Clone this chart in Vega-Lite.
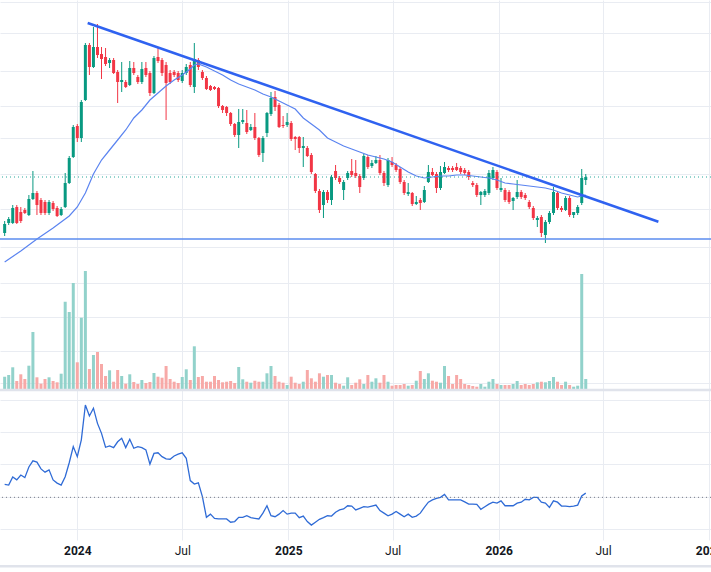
{
  "$schema": "https://vega.github.io/schema/vega-lite/v6.json",
  "width": 711,
  "height": 540,
  "autosize": {"type": "none"},
  "padding": {"left": 0, "top": 0, "right": 0, "bottom": 32},
  "background": "#ffffff",
  "config": {
    "view": {"stroke": null},
    "font": "Roboto",
    "axisX": {
      "title": null,
      "labelFont": "Roboto",
      "labelFontSize": 12,
      "labelColor": "#131722",
      "labelPadding": 5,
      "labelOverlap": false,
      "labelFlush": false,
      "labelBound": false,
      "ticks": false,
      "domain": false,
      "grid": true,
      "gridColor": "#e9ecf2"
    }
  },
  "datasets": {
    "candles": [
      {"d": "2023-08-28", "o": 67, "h": 79, "l": 64, "c": 76, "v": 13.3, "r": 13.8},
      {"d": "2023-09-04", "o": 77, "h": 83, "l": 75, "c": 81, "v": 15, "r": 13.6},
      {"d": "2023-09-11", "o": 77, "h": 95, "l": 76, "c": 92, "v": 22.7, "r": 16.1},
      {"d": "2023-09-18", "o": 93, "h": 95, "l": 76, "c": 77, "v": 9, "r": 15.2},
      {"d": "2023-09-25", "o": 88, "h": 93, "l": 77, "c": 79, "v": 15.7, "r": 16.7},
      {"d": "2023-10-02", "o": 90, "h": 92, "l": 86, "c": 87, "v": 11, "r": 15.9},
      {"d": "2023-10-09", "o": 85, "h": 105, "l": 84, "c": 101, "v": 24.3, "r": 19.2},
      {"d": "2023-10-16", "o": 101, "h": 129, "l": 100, "c": 107, "v": 58, "r": 21.1},
      {"d": "2023-10-23", "o": 107, "h": 109, "l": 85, "c": 95, "v": 12.7, "r": 20.7},
      {"d": "2023-10-30", "o": 100, "h": 102, "l": 85, "c": 87, "v": 6.3, "r": 18.6},
      {"d": "2023-11-06", "o": 98, "h": 100, "l": 85, "c": 87, "v": 11, "r": 17.6},
      {"d": "2023-11-13", "o": 87, "h": 100, "l": 85, "c": 98, "v": 12.7, "r": 18.3},
      {"d": "2023-11-20", "o": 97, "h": 99, "l": 89, "c": 91, "v": 9, "r": 15.2},
      {"d": "2023-11-27", "o": 92, "h": 94, "l": 83, "c": 84, "v": 7.7, "r": 14.2},
      {"d": "2023-12-04", "o": 85, "h": 93, "l": 84, "c": 91, "v": 16.3, "r": 13.6},
      {"d": "2023-12-11", "o": 93, "h": 127, "l": 92, "c": 117, "v": 88.3, "r": 16.2},
      {"d": "2023-12-18", "o": 117, "h": 144, "l": 116, "c": 142, "v": 78, "r": 20.5},
      {"d": "2023-12-25", "o": 143, "h": 175, "l": 142, "c": 173, "v": 107, "r": 25.5},
      {"d": "2024-01-01", "o": 174, "h": 176, "l": 158, "c": 162, "v": 27.7, "r": 22.4},
      {"d": "2024-01-08", "o": 162, "h": 200, "l": 158, "c": 198, "v": 72.3, "r": 27.6},
      {"d": "2024-01-15", "o": 200, "h": 257, "l": 199, "c": 255, "v": 119, "r": 38.4},
      {"d": "2024-01-22", "o": 255, "h": 257, "l": 225, "c": 233, "v": 21, "r": 35.0},
      {"d": "2024-01-29", "o": 233, "h": 273, "l": 232, "c": 253, "v": 35, "r": 37.4},
      {"d": "2024-02-05", "o": 253, "h": 276, "l": 242, "c": 245, "v": 38, "r": 32.7},
      {"d": "2024-02-12", "o": 246, "h": 253, "l": 221, "c": 241, "v": 26, "r": 29.6},
      {"d": "2024-02-19", "o": 243, "h": 252, "l": 234, "c": 236, "v": 14, "r": 25.3},
      {"d": "2024-02-26", "o": 237, "h": 242, "l": 232, "c": 240, "v": 19.7, "r": 25.7},
      {"d": "2024-03-04", "o": 240, "h": 242, "l": 226, "c": 227, "v": 8.3, "r": 25.2},
      {"d": "2024-03-11", "o": 228, "h": 230, "l": 197, "c": 218, "v": 20, "r": 27.0},
      {"d": "2024-03-18", "o": 218, "h": 238, "l": 208, "c": 220, "v": 14, "r": 28.1},
      {"d": "2024-03-25", "o": 218, "h": 220, "l": 212, "c": 213, "v": 6.3, "r": 25.2},
      {"d": "2024-04-01", "o": 215, "h": 239, "l": 214, "c": 232, "v": 15.7, "r": 27.8},
      {"d": "2024-04-08", "o": 232, "h": 238, "l": 225, "c": 227, "v": 8, "r": 25.0},
      {"d": "2024-04-15", "o": 223, "h": 225, "l": 216, "c": 218, "v": 6, "r": 25.5},
      {"d": "2024-04-22", "o": 218, "h": 238, "l": 216, "c": 231, "v": 10, "r": 25.2},
      {"d": "2024-04-29", "o": 232, "h": 238, "l": 223, "c": 225, "v": 7, "r": 24.5},
      {"d": "2024-05-06", "o": 227, "h": 229, "l": 204, "c": 207, "v": 8, "r": 20.1},
      {"d": "2024-05-13", "o": 207, "h": 244, "l": 206, "c": 242, "v": 17, "r": 23.4},
      {"d": "2024-05-20", "o": 243, "h": 253, "l": 237, "c": 239, "v": 13.3, "r": 23.6},
      {"d": "2024-05-27", "o": 240, "h": 242, "l": 224, "c": 227, "v": 12.3, "r": 22.4},
      {"d": "2024-06-03", "o": 235, "h": 238, "l": 180, "c": 217, "v": 24, "r": 21.7},
      {"d": "2024-06-10", "o": 227, "h": 230, "l": 216, "c": 218, "v": 11, "r": 21.6},
      {"d": "2024-06-17", "o": 228, "h": 230, "l": 223, "c": 225, "v": 8.3, "r": 22.6},
      {"d": "2024-06-24", "o": 227, "h": 229, "l": 218, "c": 220, "v": 7, "r": 23.2},
      {"d": "2024-07-01", "o": 219, "h": 230, "l": 217, "c": 227, "v": 13, "r": 23.6},
      {"d": "2024-07-08", "o": 227, "h": 236, "l": 225, "c": 233, "v": 20.7, "r": 21.9},
      {"d": "2024-07-15", "o": 235, "h": 238, "l": 213, "c": 215, "v": 10, "r": 15.0},
      {"d": "2024-07-22", "o": 213, "h": 257, "l": 207, "c": 241, "v": 43.7, "r": 13.9},
      {"d": "2024-07-29", "o": 240, "h": 242, "l": 230, "c": 233, "v": 13, "r": 14.3},
      {"d": "2024-08-05", "o": 228, "h": 230, "l": 220, "c": 222, "v": 14, "r": 10.0},
      {"d": "2024-08-12", "o": 222, "h": 224, "l": 210, "c": 211, "v": 8.3, "r": 3.6},
      {"d": "2024-08-19", "o": 214, "h": 215, "l": 209, "c": 210, "v": 8.3, "r": 4.6},
      {"d": "2024-08-26", "o": 213, "h": 214, "l": 210, "c": 211, "v": 14, "r": 3.3},
      {"d": "2024-09-02", "o": 212, "h": 213, "l": 192, "c": 194, "v": 10, "r": 3.1},
      {"d": "2024-09-09", "o": 194, "h": 195, "l": 187, "c": 190, "v": 7.7, "r": 3.1},
      {"d": "2024-09-16", "o": 193, "h": 194, "l": 184, "c": 187, "v": 8.3, "r": 3.1},
      {"d": "2024-09-23", "o": 187, "h": 188, "l": 174, "c": 176, "v": 9, "r": 2.1},
      {"d": "2024-09-30", "o": 176, "h": 177, "l": 163, "c": 165, "v": 7, "r": 2.3},
      {"d": "2024-10-07", "o": 165, "h": 191, "l": 152, "c": 178, "v": 23, "r": 3.6},
      {"d": "2024-10-14", "o": 178, "h": 191, "l": 176, "c": 180, "v": 10.7, "r": 3.6},
      {"d": "2024-10-21", "o": 177, "h": 190, "l": 166, "c": 168, "v": 8.3, "r": 4.1},
      {"d": "2024-10-28", "o": 170, "h": 176, "l": 169, "c": 173, "v": 7.3, "r": 3.5},
      {"d": "2024-11-04", "o": 173, "h": 187, "l": 160, "c": 162, "v": 9.3, "r": 3.3},
      {"d": "2024-11-11", "o": 162, "h": 163, "l": 143, "c": 145, "v": 8.3, "r": 3.1},
      {"d": "2024-11-18", "o": 147, "h": 164, "l": 138, "c": 162, "v": 8.3, "r": 4.9},
      {"d": "2024-11-25", "o": 167, "h": 188, "l": 163, "c": 187, "v": 16.7, "r": 7.2},
      {"d": "2024-12-02", "o": 186, "h": 208, "l": 184, "c": 202, "v": 24, "r": 4.1},
      {"d": "2024-12-09", "o": 203, "h": 209, "l": 189, "c": 193, "v": 14, "r": 3.8},
      {"d": "2024-12-16", "o": 195, "h": 197, "l": 172, "c": 173, "v": 8.3, "r": 4.6},
      {"d": "2024-12-23", "o": 175, "h": 184, "l": 172, "c": 174, "v": 7.3, "r": 5.7},
      {"d": "2024-12-30", "o": 175, "h": 187, "l": 173, "c": 178, "v": 5, "r": 4.6},
      {"d": "2025-01-06", "o": 177, "h": 179, "l": 159, "c": 161, "v": 13.3, "r": 4.9},
      {"d": "2025-01-13", "o": 163, "h": 164, "l": 150, "c": 161, "v": 7.3, "r": 4.9},
      {"d": "2025-01-20", "o": 163, "h": 164, "l": 147, "c": 152, "v": 6, "r": 3.5},
      {"d": "2025-01-27", "o": 152, "h": 163, "l": 133, "c": 154, "v": 8.3, "r": 4.0},
      {"d": "2025-02-03", "o": 152, "h": 154, "l": 143, "c": 144, "v": 20, "r": 2.3},
      {"d": "2025-02-10", "o": 145, "h": 147, "l": 126, "c": 128, "v": 11.7, "r": 1.2},
      {"d": "2025-02-17", "o": 126, "h": 127, "l": 107, "c": 109, "v": 8.3, "r": 2.1},
      {"d": "2025-02-24", "o": 109, "h": 111, "l": 87, "c": 90, "v": 16.7, "r": 3.0},
      {"d": "2025-03-03", "o": 95, "h": 110, "l": 82, "c": 108, "v": 13.3, "r": 3.5},
      {"d": "2025-03-10", "o": 108, "h": 110, "l": 97, "c": 100, "v": 15, "r": 4.1},
      {"d": "2025-03-17", "o": 100, "h": 125, "l": 95, "c": 123, "v": 15, "r": 4.0},
      {"d": "2025-03-24", "o": 129, "h": 135, "l": 120, "c": 122, "v": 7.3, "r": 5.2},
      {"d": "2025-03-31", "o": 122, "h": 124, "l": 116, "c": 118, "v": 6, "r": 5.9},
      {"d": "2025-04-07", "o": 110, "h": 120, "l": 100, "c": 118, "v": 4.3, "r": 6.2},
      {"d": "2025-04-14", "o": 122, "h": 129, "l": 120, "c": 127, "v": 12.7, "r": 7.2},
      {"d": "2025-04-21", "o": 129, "h": 141, "l": 123, "c": 125, "v": 5, "r": 7.1},
      {"d": "2025-04-28", "o": 127, "h": 140, "l": 122, "c": 124, "v": 7.3, "r": 5.9},
      {"d": "2025-05-05", "o": 124, "h": 126, "l": 107, "c": 113, "v": 10.7, "r": 6.4},
      {"d": "2025-05-12", "o": 122, "h": 146, "l": 120, "c": 144, "v": 6, "r": 6.9},
      {"d": "2025-05-19", "o": 143, "h": 145, "l": 131, "c": 133, "v": 15, "r": 6.8},
      {"d": "2025-05-26", "o": 134, "h": 140, "l": 132, "c": 137, "v": 8.3, "r": 7.1},
      {"d": "2025-06-02", "o": 137, "h": 144, "l": 136, "c": 140, "v": 11.7, "r": 7.4},
      {"d": "2025-06-09", "o": 140, "h": 145, "l": 125, "c": 127, "v": 7.3, "r": 5.7},
      {"d": "2025-06-16", "o": 127, "h": 129, "l": 114, "c": 117, "v": 15, "r": 4.9},
      {"d": "2025-06-23", "o": 115, "h": 142, "l": 113, "c": 140, "v": 8.3, "r": 4.1},
      {"d": "2025-06-30", "o": 138, "h": 143, "l": 133, "c": 135, "v": 4.3, "r": 4.6},
      {"d": "2025-07-07", "o": 135, "h": 137, "l": 128, "c": 130, "v": 5, "r": 5.4},
      {"d": "2025-07-14", "o": 131, "h": 133, "l": 116, "c": 118, "v": 5, "r": 4.6},
      {"d": "2025-07-21", "o": 118, "h": 120, "l": 105, "c": 107, "v": 6, "r": 3.8},
      {"d": "2025-07-28", "o": 106, "h": 117, "l": 104, "c": 108, "v": 4.3, "r": 4.6},
      {"d": "2025-08-04", "o": 107, "h": 108, "l": 94, "c": 96, "v": 5, "r": 3.6},
      {"d": "2025-08-11", "o": 96, "h": 104, "l": 95, "c": 98, "v": 9.3, "r": 4.0},
      {"d": "2025-08-18", "o": 100, "h": 102, "l": 90, "c": 97, "v": 19, "r": 4.9},
      {"d": "2025-08-25", "o": 98, "h": 114, "l": 97, "c": 110, "v": 11, "r": 6.7},
      {"d": "2025-09-01", "o": 118, "h": 135, "l": 117, "c": 128, "v": 16.7, "r": 8.3},
      {"d": "2025-09-08", "o": 128, "h": 132, "l": 124, "c": 125, "v": 9.3, "r": 9.0},
      {"d": "2025-09-15", "o": 126, "h": 128, "l": 107, "c": 112, "v": 8.3, "r": 9.5},
      {"d": "2025-09-22", "o": 112, "h": 134, "l": 110, "c": 128, "v": 7.3, "r": 9.8},
      {"d": "2025-09-29", "o": 127, "h": 138, "l": 126, "c": 133, "v": 24, "r": 10.7},
      {"d": "2025-10-06", "o": 132, "h": 134, "l": 128, "c": 130, "v": 14, "r": 9.0},
      {"d": "2025-10-13", "o": 132, "h": 134, "l": 128, "c": 130, "v": 6, "r": 9.0},
      {"d": "2025-10-20", "o": 133, "h": 137, "l": 129, "c": 130, "v": 15, "r": 9.0},
      {"d": "2025-10-27", "o": 132, "h": 134, "l": 126, "c": 128, "v": 11, "r": 9.0},
      {"d": "2025-11-03", "o": 130, "h": 132, "l": 125, "c": 127, "v": 6, "r": 8.4},
      {"d": "2025-11-10", "o": 128, "h": 130, "l": 120, "c": 123, "v": 5, "r": 7.7},
      {"d": "2025-11-17", "o": 117, "h": 119, "l": 113, "c": 115, "v": 4, "r": 7.7},
      {"d": "2025-11-24", "o": 115, "h": 117, "l": 103, "c": 105, "v": 3.3, "r": 7.6},
      {"d": "2025-12-01", "o": 105, "h": 109, "l": 95, "c": 108, "v": 6, "r": 6.1},
      {"d": "2025-12-08", "o": 105, "h": 111, "l": 103, "c": 109, "v": 3.3, "r": 6.9},
      {"d": "2025-12-15", "o": 107, "h": 130, "l": 105, "c": 127, "v": 8.3, "r": 7.7},
      {"d": "2025-12-22", "o": 122, "h": 133, "l": 120, "c": 130, "v": 11, "r": 8.3},
      {"d": "2025-12-29", "o": 128, "h": 130, "l": 110, "c": 112, "v": 6, "r": 8.0},
      {"d": "2026-01-05", "o": 110, "h": 122, "l": 108, "c": 112, "v": 5, "r": 8.7},
      {"d": "2026-01-12", "o": 110, "h": 112, "l": 98, "c": 100, "v": 5, "r": 7.2},
      {"d": "2026-01-19", "o": 108, "h": 110, "l": 96, "c": 98, "v": 5, "r": 7.2},
      {"d": "2026-01-26", "o": 99, "h": 103, "l": 90, "c": 102, "v": 6, "r": 7.2},
      {"d": "2026-02-02", "o": 103, "h": 120, "l": 101, "c": 108, "v": 9, "r": 8.0},
      {"d": "2026-02-09", "o": 108, "h": 110, "l": 101, "c": 103, "v": 5, "r": 8.3},
      {"d": "2026-02-16", "o": 105, "h": 107, "l": 100, "c": 102, "v": 6, "r": 9.2},
      {"d": "2026-02-23", "o": 98, "h": 100, "l": 91, "c": 93, "v": 5, "r": 9.0},
      {"d": "2026-03-02", "o": 92, "h": 94, "l": 80, "c": 82, "v": 6, "r": 9.8},
      {"d": "2026-03-09", "o": 80, "h": 84, "l": 73, "c": 82, "v": 7.7, "r": 9.8},
      {"d": "2026-03-16", "o": 83, "h": 85, "l": 63, "c": 67, "v": 8.3, "r": 8.3},
      {"d": "2026-03-23", "o": 65, "h": 80, "l": 57, "c": 78, "v": 7.7, "r": 8.0},
      {"d": "2026-03-30", "o": 78, "h": 89, "l": 76, "c": 87, "v": 9, "r": 6.7},
      {"d": "2026-04-06", "o": 87, "h": 113, "l": 85, "c": 108, "v": 13, "r": 8.7},
      {"d": "2026-04-13", "o": 107, "h": 109, "l": 90, "c": 92, "v": 8.3, "r": 8.3},
      {"d": "2026-04-20", "o": 92, "h": 94, "l": 88, "c": 90, "v": 5, "r": 7.1},
      {"d": "2026-04-27", "o": 90, "h": 104, "l": 89, "c": 102, "v": 8.3, "r": 7.1},
      {"d": "2026-05-04", "o": 102, "h": 104, "l": 83, "c": 85, "v": 5, "r": 6.9},
      {"d": "2026-05-11", "o": 85, "h": 88, "l": 82, "c": 88, "v": 3.3, "r": 7.1},
      {"d": "2026-05-18", "o": 87, "h": 95, "l": 85, "c": 93, "v": 4.3, "r": 7.4},
      {"d": "2026-05-25", "o": 97, "h": 131, "l": 95, "c": 122, "v": 116, "r": 10.2},
      {"d": "2026-06-01", "o": 120, "h": 126, "l": 115, "c": 123, "v": 11, "r": 11.1}
    ],
    "ma": [
      {"d": "2023-08-28", "m": 38}, {"d": "2023-09-25", "m": 49}, {"d": "2023-10-23", "m": 61},
      {"d": "2023-11-20", "m": 72}, {"d": "2023-12-18", "m": 84}, {"d": "2024-01-01", "m": 93},
      {"d": "2024-01-15", "m": 107}, {"d": "2024-01-29", "m": 126}, {"d": "2024-02-12", "m": 140},
      {"d": "2024-02-26", "m": 150}, {"d": "2024-03-11", "m": 160}, {"d": "2024-03-25", "m": 170},
      {"d": "2024-04-08", "m": 182}, {"d": "2024-04-22", "m": 190}, {"d": "2024-05-06", "m": 200},
      {"d": "2024-05-20", "m": 207}, {"d": "2024-06-03", "m": 214}, {"d": "2024-06-17", "m": 220},
      {"d": "2024-07-01", "m": 225}, {"d": "2024-07-15", "m": 231}, {"d": "2024-07-22", "m": 235},
      {"d": "2024-07-29", "m": 236}, {"d": "2024-08-12", "m": 233}, {"d": "2024-08-26", "m": 229},
      {"d": "2024-09-09", "m": 225}, {"d": "2024-09-23", "m": 220}, {"d": "2024-10-07", "m": 216},
      {"d": "2024-10-21", "m": 213}, {"d": "2024-11-04", "m": 210}, {"d": "2024-11-18", "m": 206},
      {"d": "2024-12-02", "m": 203}, {"d": "2024-12-16", "m": 199}, {"d": "2024-12-30", "m": 195},
      {"d": "2025-01-13", "m": 191}, {"d": "2025-01-27", "m": 182}, {"d": "2025-02-10", "m": 176},
      {"d": "2025-02-24", "m": 170}, {"d": "2025-03-10", "m": 162}, {"d": "2025-03-24", "m": 158},
      {"d": "2025-04-07", "m": 154}, {"d": "2025-04-21", "m": 151}, {"d": "2025-05-05", "m": 148},
      {"d": "2025-05-19", "m": 145}, {"d": "2025-06-02", "m": 143}, {"d": "2025-06-16", "m": 141},
      {"d": "2025-06-30", "m": 138}, {"d": "2025-07-14", "m": 133}, {"d": "2025-07-28", "m": 128},
      {"d": "2025-08-11", "m": 124}, {"d": "2025-08-25", "m": 122}, {"d": "2025-09-08", "m": 123},
      {"d": "2025-09-22", "m": 124}, {"d": "2025-10-06", "m": 124}, {"d": "2025-10-20", "m": 125},
      {"d": "2025-11-03", "m": 125}, {"d": "2025-11-17", "m": 124}, {"d": "2025-12-01", "m": 123},
      {"d": "2025-12-15", "m": 122}, {"d": "2025-12-29", "m": 120}, {"d": "2026-01-12", "m": 117},
      {"d": "2026-01-26", "m": 116}, {"d": "2026-02-09", "m": 115}, {"d": "2026-02-23", "m": 114},
      {"d": "2026-03-09", "m": 113}, {"d": "2026-03-23", "m": 112}, {"d": "2026-04-06", "m": 110},
      {"d": "2026-04-20", "m": 107}, {"d": "2026-05-04", "m": 105}, {"d": "2026-05-18", "m": 103},
      {"d": "2026-06-01", "m": 105}
    ],
    "trend": [
      {"d": "2024-01-19", "p": 277},
      {"d": "2026-10-05", "p": 78.3}
    ]
  },
  "layer": [
    {
      "data": {"name": "candles"},
      "mark": {"type": "rule", "strokeWidth": 1},
      "encoding": {
        "x": {"field": "d", "type": "temporal", "title": null, "axis": {"values": [1704067200000, 1719792000000, 1735689600000, 1751328000000, 1767225600000, 1782864000000, 1798761600000], "labelExpr": "utcmonth(datum.value) == 0 ? utcFormat(datum.value, '%Y') : utcFormat(datum.value, '%b')", "labelFontWeight": {"condition": {"test": "utcmonth(datum.value) == 0", "value": "bold"}, "value": "normal"}}, "scale": {"type": "utc", "domain": [{"year": 2023, "month": 8, "date": 28, "hours": 14, "utc": true}, {"year": 2026, "month": 12, "date": 26, "hours": 14, "utc": true}]}},
        "y": {
          "field": "l", "type": "quantitative",
          "scale": {"domain": [-240, 300], "nice": false},
          "axis": {"orient": "left", "title": null, "labels": false, "ticks": false, "domain": false, "grid": true, "gridColor": "#e9ecf2", "values": [298.3, 267, 229, 194, 162, 126, 91, 53, 17, -17, -51, -83]}
        },
        "y2": {"field": "h"},
        "color": {"condition": {"test": "datum.c >= datum.o", "value": "#089981"}, "value": "#f23645"}
      }
    },
    {
      "data": {"name": "candles"},
      "mark": {"type": "bar", "size": 3},
      "encoding": {
        "x": {"field": "d", "type": "temporal", "title": null, "axis": {"values": [1704067200000, 1719792000000, 1735689600000, 1751328000000, 1767225600000, 1782864000000, 1798761600000], "labelExpr": "utcmonth(datum.value) == 0 ? utcFormat(datum.value, '%Y') : utcFormat(datum.value, '%b')", "labelFontWeight": {"condition": {"test": "utcmonth(datum.value) == 0", "value": "bold"}, "value": "normal"}}, "scale": {"type": "utc", "domain": [{"year": 2023, "month": 8, "date": 28, "hours": 14, "utc": true}, {"year": 2026, "month": 12, "date": 26, "hours": 14, "utc": true}]}},
        "y": {"field": "o", "type": "quantitative", "axis": null, "scale": {"domain": [-240, 300], "nice": false}},
        "y2": {"field": "c"},
        "color": {"condition": {"test": "datum.c >= datum.o", "value": "#089981"}, "value": "#f23645"}
      }
    },
    {
      "data": {"name": "ma"},
      "mark": {"type": "line", "strokeWidth": 1.2, "color": "#5b84f0"},
      "encoding": {
        "x": {"field": "d", "type": "temporal", "title": null, "axis": {"values": [1704067200000, 1719792000000, 1735689600000, 1751328000000, 1767225600000, 1782864000000, 1798761600000], "labelExpr": "utcmonth(datum.value) == 0 ? utcFormat(datum.value, '%Y') : utcFormat(datum.value, '%b')", "labelFontWeight": {"condition": {"test": "utcmonth(datum.value) == 0", "value": "bold"}, "value": "normal"}}, "scale": {"type": "utc", "domain": [{"year": 2023, "month": 8, "date": 28, "hours": 14, "utc": true}, {"year": 2026, "month": 12, "date": 26, "hours": 14, "utc": true}]}},
        "y": {"field": "m", "type": "quantitative", "axis": null, "scale": {"domain": [-240, 300], "nice": false}}
      }
    },
    {
      "data": {"values": [{}]},
      "mark": {"type": "rule", "color": "#26a69a", "strokeWidth": 1, "strokeDash": [1, 3]},
      "encoding": {
        "y": {"datum": 123, "type": "quantitative", "axis": null, "scale": {"domain": [-240, 300], "nice": false}}
      }
    },
    {
      "data": {"values": [{}]},
      "mark": {"type": "rule", "color": "#5b8def", "strokeWidth": 1.3},
      "encoding": {
        "y": {"datum": 61, "type": "quantitative", "axis": null, "scale": {"domain": [-240, 300], "nice": false}}
      }
    },
    {
      "data": {"name": "trend"},
      "mark": {"type": "line", "strokeWidth": 2.5, "color": "#2f62f0"},
      "encoding": {
        "x": {"field": "d", "type": "temporal", "title": null, "axis": {"values": [1704067200000, 1719792000000, 1735689600000, 1751328000000, 1767225600000, 1782864000000, 1798761600000], "labelExpr": "utcmonth(datum.value) == 0 ? utcFormat(datum.value, '%Y') : utcFormat(datum.value, '%b')", "labelFontWeight": {"condition": {"test": "utcmonth(datum.value) == 0", "value": "bold"}, "value": "normal"}}, "scale": {"type": "utc", "domain": [{"year": 2023, "month": 8, "date": 28, "hours": 14, "utc": true}, {"year": 2026, "month": 12, "date": 26, "hours": 14, "utc": true}]}},
        "y": {"field": "p", "type": "quantitative", "axis": null, "scale": {"domain": [-240, 300], "nice": false}}
      }
    },
    {
      "data": {"name": "candles"},
      "mark": {"type": "bar", "size": 3},
      "encoding": {
        "x": {"field": "d", "type": "temporal", "title": null, "axis": {"values": [1704067200000, 1719792000000, 1735689600000, 1751328000000, 1767225600000, 1782864000000, 1798761600000], "labelExpr": "utcmonth(datum.value) == 0 ? utcFormat(datum.value, '%Y') : utcFormat(datum.value, '%b')", "labelFontWeight": {"condition": {"test": "utcmonth(datum.value) == 0", "value": "bold"}, "value": "normal"}}, "scale": {"type": "utc", "domain": [{"year": 2023, "month": 8, "date": 28, "hours": 14, "utc": true}, {"year": 2026, "month": 12, "date": 26, "hours": 14, "utc": true}]}},
        "y": {"field": "v", "type": "quantitative", "axis": null, "scale": {"domain": [-150, 390], "nice": false}},
        "color": {"condition": {"test": "datum.c >= datum.o", "value": "#92d2cb"}, "value": "#f7a9a7"}
      }
    },
    {
      "data": {"name": "candles"},
      "mark": {"type": "line", "strokeWidth": 1.3, "color": "#2f6bd6"},
      "encoding": {
        "x": {"field": "d", "type": "temporal", "title": null, "axis": {"values": [1704067200000, 1719792000000, 1735689600000, 1751328000000, 1767225600000, 1782864000000, 1798761600000], "labelExpr": "utcmonth(datum.value) == 0 ? utcFormat(datum.value, '%Y') : utcFormat(datum.value, '%b')", "labelFontWeight": {"condition": {"test": "utcmonth(datum.value) == 0", "value": "bold"}, "value": "normal"}}, "scale": {"type": "utc", "domain": [{"year": 2023, "month": 8, "date": 28, "hours": 14, "utc": true}, {"year": 2026, "month": 12, "date": 26, "hours": 14, "utc": true}]}},
        "y": {
          "field": "r", "type": "quantitative",
          "scale": {"domain": [-3.41, 163.78], "nice": false},
          "axis": {"orient": "right", "title": null, "labels": false, "ticks": false, "domain": false, "grid": true, "gridColor": "#e9ecf2", "values": [0, 10, 20, 30, 40]}
        }
      }
    },
    {
      "data": {"values": [{}]},
      "mark": {"type": "rule", "color": "#787b86", "strokeWidth": 1, "strokeDash": [1, 3]},
      "encoding": {
        "y": {"datum": 9.8, "type": "quantitative", "axis": null, "scale": {"domain": [-3.41, 163.78], "nice": false}}
      }
    },
    {
      "data": {"values": [{}]},
      "mark": {"type": "rule", "color": "#e0e3eb", "strokeWidth": 2.5},
      "encoding": {
        "y": {"datum": 43, "type": "quantitative", "axis": null, "scale": {"domain": [-3.41, 163.78], "nice": false}}
      }
    },
    {
      "data": {"values": [{}]},
      "mark": {"type": "rule", "color": "#e0e3eb", "strokeWidth": 2.5},
      "encoding": {
        "y": {"datum": -11.5, "type": "quantitative", "axis": null, "scale": {"domain": [-3.41, 163.78], "nice": false}}
      }
    }
  ],
  "resolve": {"scale": {"y": "independent"}}
}
